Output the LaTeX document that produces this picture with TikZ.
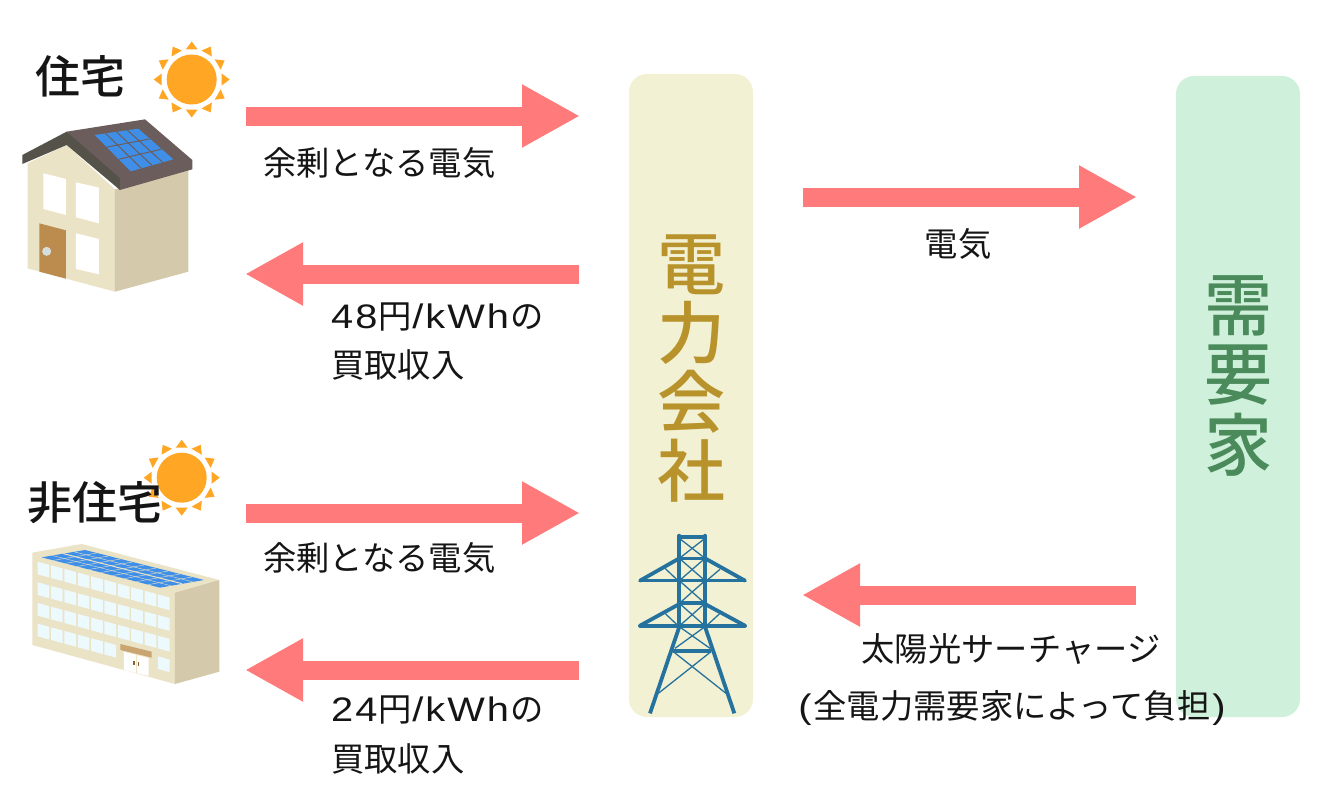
\documentclass[tikz,border=0pt]{standalone}
\usepackage{fontspec}
\setmainfont{Noto Sans CJK JP}
\newfontfamily\medf{Noto Sans CJK JP Medium}
\newfontfamily\wide[FakeStretch=1.17,LetterSpace=6]{Liberation Sans}
\usetikzlibrary{arrows.meta}
\definecolor{arrowred}{HTML}{FF7B7B}
\definecolor{utilbox}{HTML}{F2F1D3}
\definecolor{userbox}{HTML}{CFF1DC}
\definecolor{utiltext}{HTML}{B8922B}
\definecolor{usertext}{HTML}{4A8A5B}
\definecolor{sunc}{HTML}{FFA724}
\definecolor{wallf}{HTML}{EBE3C6}
\definecolor{walls}{HTML}{D4CAAB}
\definecolor{roofc}{HTML}{6A5D5C}
\definecolor{eave}{HTML}{55524A}
\definecolor{panelc}{HTML}{3F8FE8}
\definecolor{doorc}{HTML}{BC8B4E}
\definecolor{winc}{HTML}{ECFAFE}
\definecolor{towerc}{HTML}{26729E}
\definecolor{knobc}{HTML}{D5DEDE}
\definecolor{ink}{HTML}{151515}
\newcommand{\lat}[1]{{\fontsize{34}{38}\selectfont\wide #1}}
\tikzset{
 flow/.style={line width=19pt,arrowred,-{Triangle[length=58pt,width=59pt]}},
 lab/.style={font=\fontsize{33.3}{38}\selectfont,text=ink,inner sep=0pt,anchor=center},
 labw/.style={lab,anchor=west},
 head/.style={font=\fontsize{45}{54}\selectfont\medf,text=ink,inner sep=0pt},
 vert/.style={font=\fontsize{68}{72}\selectfont\medf,inner sep=0pt},
 tk/.style={towerc,line width=3.8pt},
 tm/.style={towerc,line width=2.4pt},
 tn/.style={towerc,line width=1.3pt},
}
\newcommand{\sunat}[2]{%
 \begin{scope}[shift={(#1,#2)}]
  \foreach \a in {0,30,...,330}{\fill[sunc,rotate=\a] (30,-6) -- (38,0) -- (30,6) -- cycle;}
  \fill[sunc] (0,0) circle (25pt);
 \end{scope}}
\begin{document}
\begin{tikzpicture}[x=1pt,y=-1pt]
\useasboundingbox (0,0) rectangle (1320,800);
\fill[white] (0,0) rectangle (1320,800);
% boxes
\node[fill=utilbox,rounded corners=18pt,minimum width=124pt,minimum height=643pt,inner sep=0pt] (util) at (691,395.5) {};
\node[fill=userbox,rounded corners=18pt,minimum width=124pt,minimum height=641pt,inner sep=0pt] (user) at (1238,396.5) {};
\node[vert,text=utiltext] (u1) at (691,265) {電};
\node[vert,text=utiltext] (u2) at (691,333) {力};
\node[vert,text=utiltext] (u3) at (691,402) {会};
\node[vert,text=utiltext] (u4) at (691,471) {社};
\node[vert,text=usertext] (d1) at (1238,306) {需};
\node[vert,text=usertext] (d2) at (1238,375) {要};
\node[vert,text=usertext] (d3) at (1238,445) {家};
% connectors
\coordinate (a1s) at (246,116); \coordinate (a1e) at (580,116);
\coordinate (a2s) at (579,274); \coordinate (a2e) at (245,274);
\coordinate (a3s) at (246,513); \coordinate (a3e) at (580,513);
\coordinate (a4s) at (579,670); \coordinate (a4e) at (245,670);
\coordinate (a5s) at (803,197); \coordinate (a5e) at (1137,197);
\coordinate (a6s) at (1136,595); \coordinate (a6e) at (802,595);
\draw[flow] (a1s) -- (a1e);
\draw[flow] (a2s) -- (a2e);
\draw[flow] (a3s) -- (a3e);
\draw[flow] (a4s) -- (a4e);
\draw[flow] (a5s) -- (a5e);
\draw[flow] (a6s) -- (a6e);
% suns
\sunat{191.7}{79.5}
\sunat{181.7}{477.7}
% house
\begin{scope}[shift={(10,30)},x=0.33333pt,y=-0.33333pt]
 \fill[wallf] (53,400) -- (170,345) -- (315,478) -- (315,785) -- (53,715) -- cycle;
 \fill[walls] (315,478) -- (535,420) -- (535,725) -- (315,785) -- cycle;
 \fill[roofc] (170,305) -- (405,268) -- (547,390) -- (547,418) -- (330,480) -- cycle;
 \fill[eave] (37,375) -- (170,305) -- (330,445) -- (330,480) -- (170,345) -- (37,402) -- cycle;
 \fill[panelc] (254,315) -- (385,296) -- (490,388) -- (362,424) -- cycle;
 \foreach \t in {0.25,0.5,0.75}{
  \draw[roofc,line width=1pt] ({254+\t*131},{315-\t*19}) -- ({362+\t*128},{424-\t*36});}
 \foreach \t in {0.3333,0.6667}{
  \draw[roofc,line width=1pt] ({254+\t*108},{315+\t*109}) -- ({385+\t*105},{296+\t*92});}
 \fill[white] (100,430) -- (168,447) -- (168,555) -- (100,537) -- cycle;
 \fill[white] (198,457) -- (267,473) -- (267,580) -- (198,562) -- cycle;
 \fill[white] (198,610) -- (267,627) -- (267,733) -- (198,717) -- cycle;
 \fill[doorc] (88,580) -- (168,601) -- (168,746) -- (88,725) -- cycle;
 \fill[knobc] (110,664) circle (4.5pt);
\end{scope}
% building
\begin{scope}[shift={(10,430)},x=0.33333pt,y=-0.33333pt]
 \fill[wallf] (67,368) -- (215,342) -- (628,450) -- (495,488) -- (495,762) -- (67,645) -- cycle;
 \fill[walls] (495,488) -- (628,450) -- (628,725) -- (495,762) -- cycle;
 \fill[panelc] (95,382) -- (225,360) -- (582,450) -- (450,473) -- cycle;
 \foreach \t in {0.1,0.2,...,0.95}{
  \draw[wallf,line width=0.4pt] ({95+\t*355},{382+\t*91}) -- ({225+\t*357},{360+\t*90});}
 \foreach \t in {0.25,0.75}{
  \draw[wallf,line width=0.4pt] ({95+\t*130},{382-\t*22}) -- ({450+\t*132},{473-\t*23});}
 \draw[wallf,line width=1pt] (160,371) -- (516,461);
 \foreach \r in {0,1,2}{\foreach \c in {0,...,9}{
  \pgfmathsetmacro{\xx}{83+40.1*\c}\pgfmathsetmacro{\yy}{395+62*\r+10.9*\c}
  \fill[winc] (\xx,\yy) -- ({\xx+35},{\yy+9.5}) -- ({\xx+35},{\yy+47.5}) -- (\xx,\yy+38) -- cycle;}}
 \foreach \c in {0,...,5,9}{
  \pgfmathsetmacro{\xx}{83+40.1*\c}\pgfmathsetmacro{\yy}{395+186+10.9*\c}
  \fill[winc] (\xx,\yy) -- ({\xx+35},{\yy+9.5}) -- ({\xx+35},{\yy+47.5}) -- (\xx,\yy+38) -- cycle;}
 \fill[doorc!70!wallf] (331,642) -- (425,665) -- (425,683) -- (331,660) -- cycle;
 \fill[white] (342,665) -- (416,684) -- (416,738) -- (342,720) -- cycle;
 \draw[wallf,line width=0.5pt] (379,675) -- (379,729);
 \fill[doorc!70!black] (370,694) rectangle (374,706);
 \fill[doorc!70!black] (383,697) rectangle (387,709);
\end{scope}
% tower
\begin{scope}[shift={(620,520)},x=0.33333pt,y=-0.33333pt]
 \draw[tk,line cap=round] (178,47) -- (178,320);
 \draw[tk,line cap=round] (255,47) -- (255,320);
 \draw[tk] (172,50) -- (261,50);
 \draw[tm] (178,115) -- (255,115);
 \draw[tk] (178,250) -- (255,250);
 \draw[tk,line cap=round] (178,115) -- (60,182);
 \draw[tk,line cap=round] (255,115) -- (375,182);
 \draw[tm,line cap=round] (60,182) -- (375,182);
 \draw[tk,line cap=round] (178,252) -- (60,317);
 \draw[tk,line cap=round] (255,252) -- (375,317);
 \draw[tk,line cap=round] (60,317) -- (375,317);
 \draw[tk] (178,320) -- (90,580);
 \draw[tk] (255,320) -- (343,580);
 \draw[tk] (160,392) -- (273,392);
 \foreach \p/\q in {55/115,115/182,182/250,250/318}{
  \draw[tn] (178,\p) -- (255,\q);
  \draw[tn] (255,\p) -- (178,\q);}
 \draw[tn] (178,320) -- (270,385);
 \draw[tn] (255,320) -- (165,385);
 \draw[tn] (160,395) -- (318,520);
 \draw[tn] (273,395) -- (115,520);
 \draw[tn] (135,145) -- (172,180);
 \draw[tn] (300,148) -- (262,180);
 \draw[tn] (135,280) -- (172,315);
 \draw[tn] (300,280) -- (262,315);
\end{scope}
% labels
\node[head] (h1) at (80,76) {住宅};
\node[head] (h2) at (95,503) {非住宅};
\node[labw] (l1) at (263,163) {余剰となる電気};
\node[labw] (l2) at (331,317) {\lat{48}\kern1.5pt 円\lat{/kWh}\kern1.5pt の};
\node[labw] (l3) at (331,365) {買取収入};
\node[labw] (l4) at (263,558) {余剰となる電気};
\node[labw] (l5) at (331,710) {\lat{24}\kern1.5pt 円\lat{/kWh}\kern1.5pt の};
\node[labw] (l6) at (331,759) {買取収入};
\node[lab] (l7) at (958,244) {電気};
\node[lab] (l8) at (1011,649) {太陽光サーチャージ};
\node[lab] (l9) at (1012,708) {\lat{(}\kern2pt 全電力需要家によって負担\kern2pt \lat{)}};
\end{tikzpicture}
\end{document}
